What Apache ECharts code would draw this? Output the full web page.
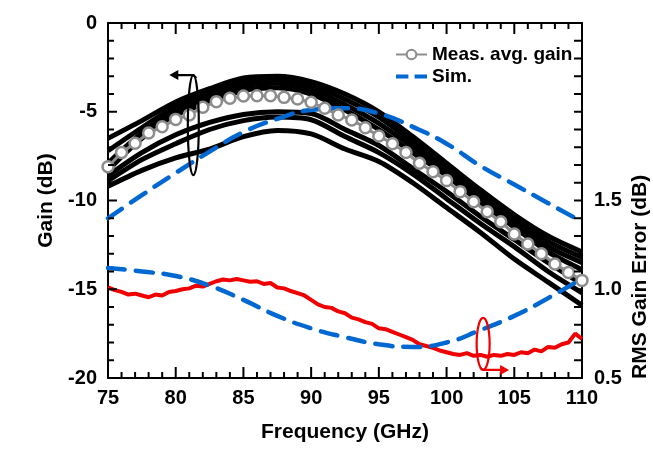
<!DOCTYPE html>
<html><head><meta charset="utf-8">
<script src="https://cdn.jsdelivr.net/npm/echarts@6/dist/echarts.min.js"></script>
<style>html,body{margin:0;padding:0;background:#fff}#c{width:653px;height:449px}</style>
</head><body><div id="c"></div>
<script>
// ---- data ----
const freqCoarse = [75, 77.5, 80, 82.5, 85, 87.5, 90, 92.5, 95, 97.5, 100, 102.5, 105, 107.5, 110];
const measTrace1 = [-6.5, -5.5, -4.45, -3.7, -3.1, -3.0, -3.3, -4.0, -5.0, -6.4, -7.9, -9.4, -10.8, -12.0, -12.9];
const measTrace2 = [-7.2, -5.9, -4.7, -3.95, -3.3, -3.2, -3.5, -4.3, -5.3, -6.7, -8.1, -9.6, -11.0, -12.3, -13.2];
const measTrace3 = [-7.9, -6.2, -4.95, -4.2, -3.55, -3.4, -3.75, -4.6, -5.65, -7.0, -8.35, -9.85, -11.25, -12.6, -13.5];
const measTrace4 = [-8.3, -6.5, -5.2, -4.45, -3.8, -3.65, -4.0, -4.9, -6.0, -7.3, -8.6, -10.1, -11.5, -12.9, -13.9];
const measTrace5 = [-8.6, -7.3, -6.3, -5.6, -5.15, -5.0, -5.1, -6.0, -6.9, -8.2, -9.5, -10.9, -12.2, -13.5, -14.7];
const measTrace6 = [-8.9, -7.7, -6.8, -6.0, -5.5, -5.3, -5.45, -6.4, -7.3, -8.5, -9.9, -11.3, -12.6, -14.0, -15.2];
const measTrace7 = [-9.2, -8.3, -7.6, -7.1, -6.4, -6.05, -6.25, -7.1, -7.8, -9.0, -10.4, -11.8, -13.3, -14.6, -15.9];

const avgFreq = [75, 76, 77, 78, 79, 80, 81, 82, 83, 84, 85, 86, 87, 88, 89, 90, 91, 92, 93, 94, 95, 96, 97, 98, 99, 100, 101, 102, 103, 104, 105, 106, 107, 108, 109, 110];
const measAvgGain = [-8.1, -7.3, -6.78, -6.2, -5.84, -5.43, -5.18, -4.75, -4.43, -4.24, -4.11, -4.1, -4.1, -4.19, -4.28, -4.47, -4.8, -5.18, -5.46, -5.9, -6.37, -6.8, -7.3, -7.9, -8.38, -8.88, -9.5, -10.07, -10.63, -11.2, -11.89, -12.45, -13.0, -13.58, -14.05, -14.5];

const simGain = [-11.0, -9.7, -8.45, -7.25, -6.15, -5.4, -4.9, -4.8, -5.1, -5.85, -6.8, -8.05, -9.1, -10.15, -11.2];
const simRmsError = [1.12, 1.10, 1.075, 1.02, 0.94, 0.85, 0.78, 0.73, 0.69, 0.675, 0.70, 0.77, 0.85, 0.95, 1.06];

const rmsFreq = [75, 75.5, 76, 76.5, 77, 77.5, 78, 78.5, 79, 79.5, 80, 80.5, 81, 81.5, 82, 82.5, 83, 83.5, 84, 84.5, 85, 85.5, 86, 86.5, 87, 87.5, 88, 88.5, 89, 89.5, 90, 90.5, 91, 91.5, 92, 92.5, 93, 93.5, 94, 94.5, 95, 95.5, 96, 96.5, 97, 97.5, 98, 98.5, 99, 99.5, 100, 100.5, 101, 101.5, 102, 102.5, 103, 103.5, 104, 104.5, 105, 105.5, 106, 106.5, 107, 107.5, 108, 108.5, 109, 109.5, 110];
const measRmsError = [1.01, 0.995, 0.985, 0.97, 0.975, 0.965, 0.955, 0.97, 0.965, 0.985, 0.99, 1.0, 1.005, 1.02, 1.015, 1.03, 1.045, 1.055, 1.05, 1.058, 1.05, 1.042, 1.045, 1.03, 1.035, 1.01, 1.005, 0.99, 0.978, 0.965, 0.94, 0.915, 0.9, 0.895, 0.875, 0.865, 0.84, 0.83, 0.815, 0.805, 0.78, 0.775, 0.76, 0.745, 0.73, 0.715, 0.69, 0.68, 0.67, 0.655, 0.645, 0.635, 0.63, 0.64, 0.625, 0.63, 0.62, 0.63, 0.625, 0.635, 0.63, 0.645, 0.64, 0.66, 0.65, 0.675, 0.67, 0.69, 0.7, 0.75, 0.72];

const xTicks = {min: 75, max: 110, step: 5, minorStep: 1};
const gainTicks = {min: -20, max: 0, step: 5, minorStep: 1};
const rmsTicks = {min: 0.5, max: 2.5, step: 0.5, minorStep: 0.1, lastLabel: 1.5};

// annotation anchors (data coordinates)
const gainMarker = [81.3, -5.75];
const rmsMarker = [102.7, 0.692];
const rmsNameAnchor = [110, 1.07];

// tick positions along each axis
const xTickVals = [];
for (let v = xTicks.min; v <= xTicks.max + 1e-9; v += xTicks.minorStep) xTickVals.push(v);
const gainTickVals = [];
for (let v = gainTicks.min; v <= gainTicks.max + 1e-9; v += gainTicks.minorStep) gainTickVals.push(v);
const rmsTickVals = [];
for (let k = 0; k <= Math.round((rmsTicks.max - rmsTicks.min) / rmsTicks.minorStep); k++) rmsTickVals.push(+(rmsTicks.min + k * rmsTicks.minorStep).toFixed(2));

// ---- chart ----
const FONT = 'Liberation Sans';
const BLUE = '#0068d0', RED = '#f00000', GRAY = '#8c8c8c';
const pairs = (xs, ys) => xs.map((x, i) => [x, ys[i]]);
const isMajor = (v, step) => Math.abs(v / step - Math.round(v / step)) < 1e-6;
const chart = echarts.init(document.getElementById('c'));

const traceList = [measTrace1, measTrace2, measTrace3, measTrace4, measTrace5, measTrace6, measTrace7];
const traceSeries = traceList.map((t, i) => ({
  name: 'trace' + (i + 1), type: 'line', data: pairs(freqCoarse, t), xAxisIndex: 0, yAxisIndex: 0,
  showSymbol: false, symbol: 'none', smooth: 0.3, lineStyle: {color: '#000', width: 5}, silent: true
}));

// tick marks drawn as thin rectangle symbols placed through the axes' scales
const TW = 2;
const bottomTicks = xTickVals.map(v => { const L = isMajor(v, xTicks.step) ? 11 : 6; return {value: [v, gainTicks.min], symbolSize: [TW, L], symbolOffset: [0, -L / 2]}; });
const topTicks = xTickVals.map(v => { const L = isMajor(v, xTicks.step) ? 11 : 6; return {value: [v, gainTicks.max], symbolSize: [TW, L], symbolOffset: [0, L / 2]}; });
const leftTicks = gainTickVals.map(v => { const L = isMajor(v, gainTicks.step) ? 9 : 6; return {value: [xTicks.min, v], symbolSize: [L, TW], symbolOffset: [L / 2, 0]}; });
const rightTicks = rmsTickVals.map(v => ({value: [xTicks.max, v], symbolSize: [8, TW], symbolOffset: [-4, 0]}));
function tickSeries(name, data, yIdx) {
  return {name: name, type: 'scatter', data: data, xAxisIndex: 0, yAxisIndex: yIdx, symbol: 'rect',
    itemStyle: {color: '#000', opacity: 1}, clip: false, silent: true, z: 6, animation: false};
}

function labelStyle(extra) {
  return Object.assign({color: '#000', fontFamily: FONT, fontWeight: 'bold', fontSize: 20}, extra || {});
}
function line() { return {show: true, onZero: false, lineStyle: {color: '#000', width: 2}}; }

function arrowHead(x, y, dir, color) {
  const L = 9, W = 5;
  return {type: 'polygon', shape: {points: [[x, y], [x - dir * L, y - W], [x - dir * L, y + W]]}, style: {fill: color}};
}
function ringArrow(color, rx, ry, dir, len) {
  return (params, api) => {
    const p = api.coord([api.value(0), api.value(1)]);
    const ay = dir < 0 ? p[1] - ry : p[1] + ry;
    const tip = p[0] + dir * len;
    return {type: 'group', children: [
      {type: 'ellipse', shape: {cx: p[0], cy: p[1], rx: rx, ry: ry}, style: {fill: 'none', stroke: color, lineWidth: 2.2}},
      {type: 'polyline', shape: {points: [[p[0] - dir * 3, ay + (dir < 0 ? 3 : -2)], [p[0], ay], [tip - dir * 8, ay]]}, style: {stroke: color, lineWidth: 2.2, fill: 'none'}},
      arrowHead(tip, ay, dir, color)
    ]};
  };
}

const option = {
  animation: false,
  grid: {left: 108, right: 71, top: 23, bottom: 71},
  legend: {
    data: [
      {name: 'Meas. avg. gain'},
      {name: 'Sim.', icon: 'path://M0,4.5L12,4.5L12,8.5L0,8.5Z M18,4.5L30,4.5L30,8.5L18,8.5Z'}
    ],
    orient: 'vertical', left: 390, top: 40,
    itemWidth: 31, itemHeight: 12, itemGap: 3,
    textStyle: {fontFamily: FONT, fontWeight: 'bold', fontSize: 19, color: '#000'}
  },
  xAxis: [
    {
      type: 'value', min: xTicks.min, max: xTicks.max, interval: xTicks.step, position: 'bottom',
      axisLine: line(), splitLine: {show: false}, axisTick: {show: false}, minorTick: {show: false},
      axisLabel: labelStyle({margin: 10}),
      name: 'Frequency (GHz)', nameLocation: 'middle', nameGap: 44,
      nameTextStyle: {fontFamily: FONT, fontWeight: 'bold', fontSize: 21, color: '#000'}
    },
    {
      type: 'value', min: xTicks.min, max: xTicks.max, interval: xTicks.step, position: 'top',
      axisLine: line(), splitLine: {show: false}, axisTick: {show: false}, minorTick: {show: false},
      axisLabel: {show: false}
    }
  ],
  yAxis: [
    {
      type: 'value', min: gainTicks.min, max: gainTicks.max, interval: gainTicks.step, position: 'left',
      axisLine: line(), splitLine: {show: false}, axisTick: {show: false}, minorTick: {show: false},
      axisLabel: labelStyle({margin: 11}),
      name: 'Gain (dB)', nameLocation: 'middle', nameGap: 46, nameRotate: 90,
      nameTextStyle: {fontFamily: FONT, fontWeight: 'bold', fontSize: 21, color: '#000'}
    },
    {
      type: 'value', min: rmsTicks.min, max: rmsTicks.max, interval: rmsTicks.step, position: 'right',
      axisLine: line(), splitLine: {show: false}, axisTick: {show: false}, minorTick: {show: false},
      axisLabel: labelStyle({margin: 12, formatter: v => (v <= rmsTicks.lastLabel + 1e-9 ? v.toFixed(1) : '')})
    }
  ],
  series: traceSeries.concat([
    {
      name: 'Meas. avg. gain', type: 'line', data: pairs(avgFreq, measAvgGain), xAxisIndex: 0, yAxisIndex: 0,
      symbol: 'circle', symbolSize: 11, showSymbol: true,
      lineStyle: {color: GRAY, width: 3},
      itemStyle: {color: '#ffffff', borderColor: GRAY, borderWidth: 2.5}
    },
    {
      name: 'RMS', type: 'line', data: pairs(rmsFreq, measRmsError), xAxisIndex: 0, yAxisIndex: 1,
      showSymbol: false, symbol: 'none', lineStyle: {color: RED, width: 4}
    },
    {
      name: 'Sim.', type: 'line', data: pairs(freqCoarse, simGain), xAxisIndex: 0, yAxisIndex: 0,
      showSymbol: false, symbol: 'none', smooth: true,
      lineStyle: {color: BLUE, width: 4.5, type: [17, 11], cap: 'round'}, itemStyle: {color: BLUE}
    },
    {
      name: 'Sim.', type: 'line', data: pairs(freqCoarse, simRmsError), xAxisIndex: 0, yAxisIndex: 1,
      showSymbol: false, symbol: 'none', smooth: true,
      lineStyle: {color: BLUE, width: 4.5, type: [17, 11], cap: 'round'}, itemStyle: {color: BLUE}
    },
    {
      name: 'gainRing', type: 'custom', coordinateSystem: 'cartesian2d', xAxisIndex: 0, yAxisIndex: 0,
      data: [gainMarker], clip: false, silent: true, z: 10,
      renderItem: ringArrow('#000', 5.5, 50, -1, 24)
    },
    {
      name: 'rmsRing', type: 'custom', coordinateSystem: 'cartesian2d', xAxisIndex: 0, yAxisIndex: 1,
      data: [rmsMarker], clip: false, silent: true, z: 10,
      renderItem: ringArrow(RED, 6.5, 26, 1, 26)
    },
    {
      name: 'rmsAxisName', type: 'custom', coordinateSystem: 'cartesian2d', xAxisIndex: 0, yAxisIndex: 1,
      data: [rmsNameAnchor], clip: false, silent: true, z: 10,
      renderItem: (params, api) => {
        const p = api.coord([api.value(0), api.value(1)]);
        return {type: 'text', x: p[0] + 58, y: p[1], rotation: Math.PI / 2,
          style: {text: 'RMS Gain Error (dB)', fontFamily: FONT, fontWeight: 'bold', fontSize: 21, fill: '#000', align: 'center', verticalAlign: 'middle'}};
      }
    },
    tickSeries('ticksBottom', bottomTicks, 0),
    tickSeries('ticksTop', topTicks, 0),
    tickSeries('ticksLeft', leftTicks, 0),
    tickSeries('ticksRight', rightTicks, 1)
  ])
};
chart.setOption(option);
</script></body></html>
